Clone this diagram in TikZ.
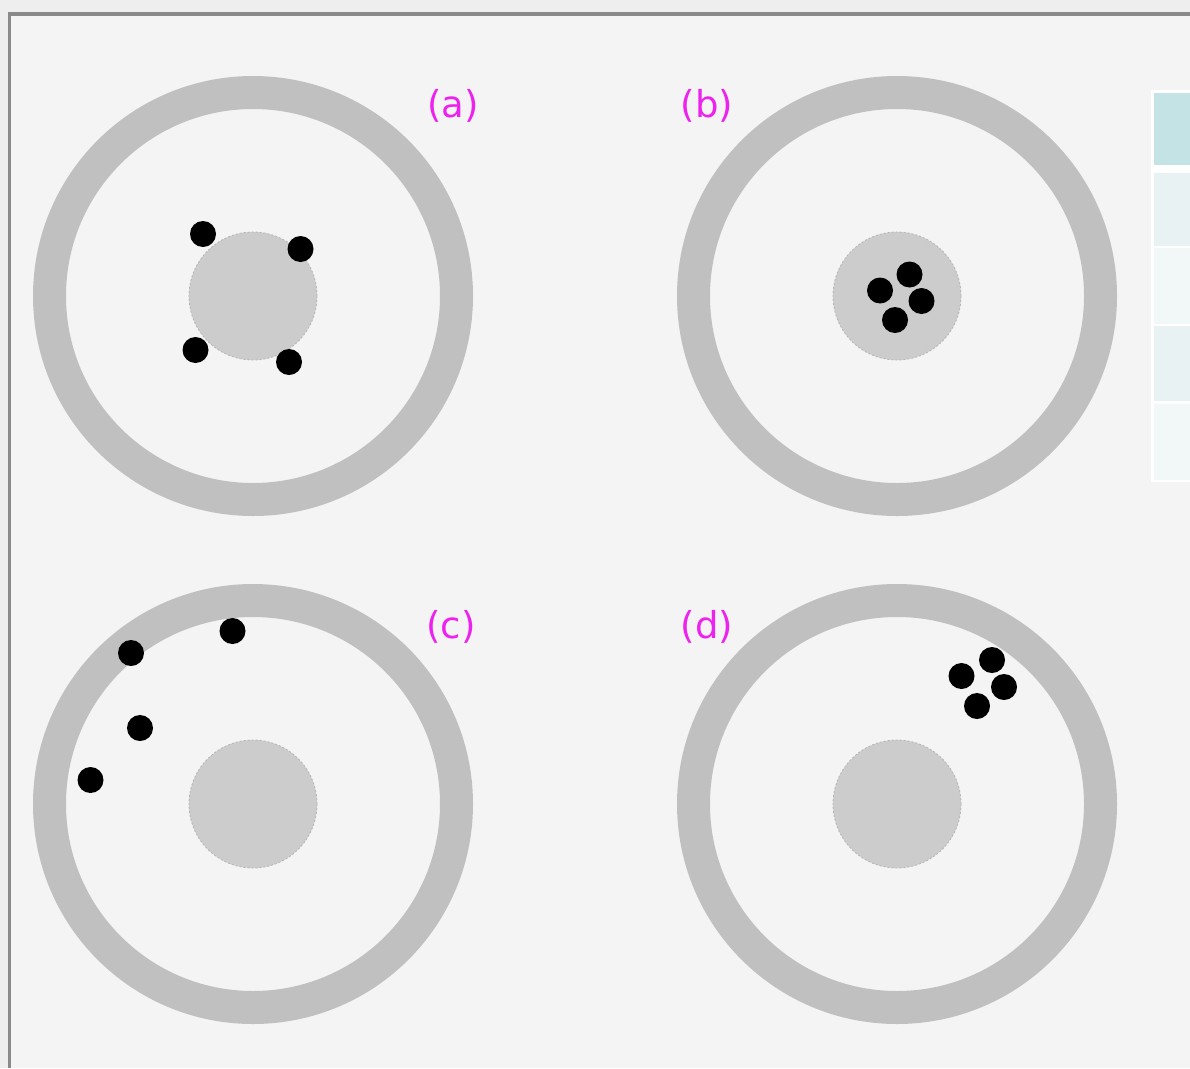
\documentclass[tikz,border=0pt]{standalone}
\usepackage{fontspec}
\setmainfont{DejaVu Sans}
\definecolor{bg}{HTML}{F4F4F4}
\definecolor{outerbg}{HTML}{EEEEEE}
\definecolor{frame}{HTML}{8A8A8A}
\definecolor{ring}{HTML}{C0C0C0}
\definecolor{core}{HTML}{CCCCCC}
\definecolor{coreedge}{HTML}{B4B4B4}
\definecolor{lbl}{HTML}{EE22EE}
\definecolor{thead}{HTML}{C3E3E4}
\definecolor{trowa}{HTML}{E9F2F3}
\definecolor{trowb}{HTML}{F2F7F7}
\tikzset{
  ringstyle/.style={draw=ring, line width=33pt},
  corestyle/.style={fill=core, draw=coreedge, line width=0.8pt, dash pattern=on 2pt off 2pt},
  dot/.style={circle, fill=black, inner sep=0pt, minimum size=26pt},
  panellabel/.style={text=lbl, font=\fontsize{37}{44}\selectfont, inner sep=0pt},
}
\begin{document}
\begin{tikzpicture}[x=1pt,y=-1pt]
\useasboundingbox (0,0) rectangle (1190,1068);
% page background and frame
\fill[outerbg] (0,0) rectangle (1190,1068);
\fill[bg] (10.5,16) rectangle (1190,1068);
\fill[frame] (8,12) rectangle (1190,16);
\fill[frame] (8,12) rectangle (10.5,1068);
% table at right
\fill[white] (1151,90) rectangle (1190,482);
\fill[thead] (1154,92.5) rectangle (1190,165);
\fill[trowa] (1154,173) rectangle (1190,245.5);
\fill[trowb] (1154,248) rectangle (1190,324);
\fill[trowa] (1154,326) rectangle (1190,401);
\fill[trowb] (1154,404) rectangle (1190,479.5);
% panels
\foreach \cx/\cy in {253/296, 897/296, 253/804, 897/804}{
  \draw[ringstyle] (\cx,\cy) circle[radius=203.5pt];
  \draw[corestyle] (\cx,\cy) circle[radius=64pt];
}
% labels
\node[panellabel] (la) at (453,106) {(a)};
\node[panellabel] (lb) at (707,106) {(b)};
\node[panellabel] (lc) at (451,627) {(c)};
\node[panellabel] (ld) at (707,627) {(d)};
% (a)
\node[dot] (a1) at (203,234) {};
\node[dot] (a2) at (300.5,249) {};
\node[dot] (a3) at (195.5,350) {};
\node[dot] (a4) at (289,362) {};
% (b)
\node[dot] (b1) at (880,290.5) {};
\node[dot] (b2) at (909.5,274.5) {};
\node[dot] (b3) at (921.5,301) {};
\node[dot] (b4) at (895,320) {};
% (c)
\node[dot] (c1) at (232.5,631) {};
\node[dot] (c2) at (131,653) {};
\node[dot] (c3) at (140,728) {};
\node[dot] (c4) at (90.5,780) {};
% (d)
\node[dot] (d1) at (961.5,676) {};
\node[dot] (d2) at (992,660) {};
\node[dot] (d3) at (1004,687) {};
\node[dot] (d4) at (977,706) {};
\end{tikzpicture}
\end{document}
